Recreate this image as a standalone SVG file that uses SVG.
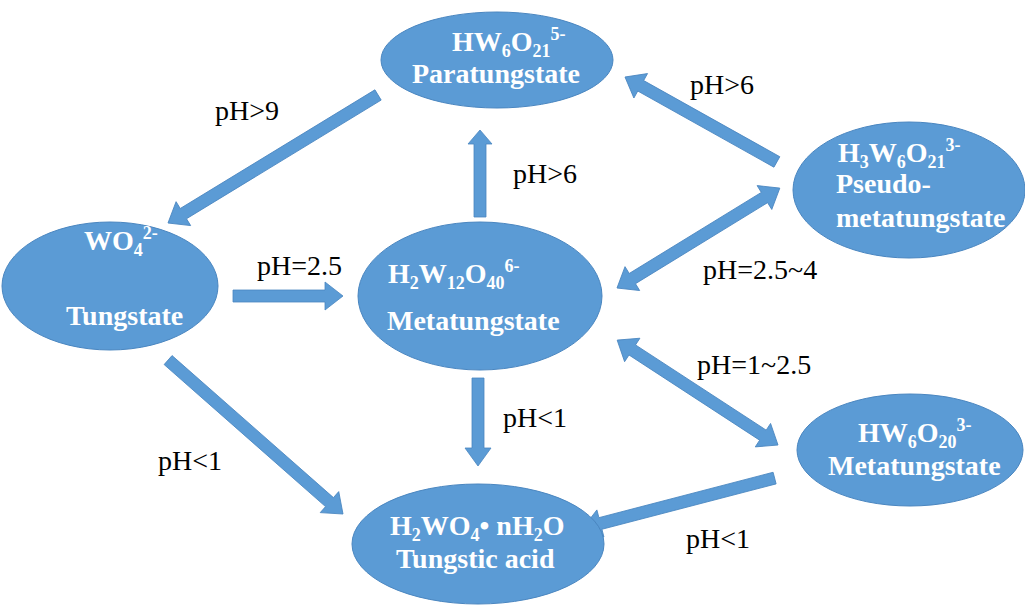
<svg xmlns="http://www.w3.org/2000/svg" width="1025" height="605" viewBox="0 0 1025 605">
<style>
.n{fill:#5B9BD5;stroke:#4A86C0;stroke-width:1}
.a{fill:#5B9BD5;stroke:#4A86C0;stroke-width:0.8}
.t{fill:#fff;font-family:"Liberation Serif","Times New Roman",serif;font-weight:bold;font-size:28px}
.s{font-size:18px}
.l{fill:#000;font-family:"Liberation Serif","Times New Roman",serif;font-size:28px}
</style>
<rect width="1025" height="605" fill="#fff"/>
<g id="connectors">
<polygon class="a" transform="translate(168,223) rotate(148.63)" points="0,0 -18,-14 -18,-6 -246,-6 -246,6 -18,6 -18,14"/>
<polygon class="a" transform="translate(480,130) rotate(-90)" points="0,0 -14,-12 -14,-6 -87,-6 -87,6 -14,6 -14,12"/>
<polygon class="a" transform="translate(343,296) rotate(0)" points="0,0 -18,-14 -18,-6 -110,-6 -110,6 -18,6 -18,14"/>
<polygon class="a" transform="translate(478,466) rotate(90)" points="0,0 -18,-13 -18,-6 -88,-6 -88,6 -18,6 -18,13"/>
<polygon class="a" transform="translate(343,514) rotate(41.35)" points="0,0 -18,-14 -18,-6 -233,-6 -233,6 -18,6 -18,14"/>
<polygon class="a" transform="translate(625,77) rotate(-150.78)" points="0,0 -18,-14 -18,-6 -174,-6 -174,6 -18,6 -18,14"/>
<polygon class="a" transform="translate(617,288) rotate(148.47)" points="0,0 -18,-14 -18,-6 -173,-6 -173,-14 -191,0 -173,14 -173,6 -18,6 -18,14"/>
<polygon class="a" transform="translate(778,445) rotate(33.11)" points="0,0 -18,-14 -18,-6 -174,-6 -174,-14 -192,0 -174,14 -174,6 -18,6 -18,14"/>
<polygon class="a" transform="translate(583,528) rotate(165.4)" points="0,0 -18,-14 -18,-6 -198,-6 -198,6 -18,6 -18,14"/>
</g>
<g id="labels">
<text class="l" x="215" y="120">pH&gt;9</text>
<text class="l" x="690" y="94">pH&gt;6</text>
<text class="l" x="513" y="183">pH&gt;6</text>
<text class="l" x="257" y="275">pH=2.5</text>
<text class="l" x="703" y="279">pH=2.5~4</text>
<text class="l" x="697" y="374">pH=1~2.5</text>
<text class="l" x="503" y="427">pH&lt;1</text>
<text class="l" x="158" y="470">pH&lt;1</text>
<text class="l" x="686" y="548">pH&lt;1</text>
</g>
<g id="paratungstate">
<ellipse class="n" cx="497" cy="60" rx="116" ry="48"/>
<text class="t" x="452" y="51">HW<tspan class="s" dy="6">6</tspan><tspan dy="-6">O</tspan><tspan class="s" dy="6">21</tspan><tspan class="s" dy="-17">5-</tspan></text>
<text class="t" x="412" y="83">Paratungstate</text>
</g>
<g id="pseudometatungstate">
<ellipse class="n" cx="909" cy="190" rx="116" ry="68"/>
<text class="t" x="838" y="162">H<tspan class="s" dy="6">3</tspan><tspan dy="-6">W</tspan><tspan class="s" dy="6">6</tspan><tspan dy="-6">O</tspan><tspan class="s" dy="6">21</tspan><tspan class="s" dy="-17">3-</tspan></text>
<text class="t" x="836" y="193">Pseudo-</text>
<text class="t" x="836" y="227">metatungstate</text>
</g>
<g id="tungstate">
<ellipse class="n" cx="110" cy="286" rx="108" ry="64"/>
<text class="t" x="84" y="250">WO<tspan class="s" dy="6">4</tspan><tspan class="s" dy="-17">2-</tspan></text>
<text class="t" x="66" y="325">Tungstate</text>
</g>
<g id="metatungstate">
<ellipse class="n" cx="480" cy="296" rx="122" ry="74"/>
<text class="t" x="388" y="283">H<tspan class="s" dy="6">2</tspan><tspan dy="-6">W</tspan><tspan class="s" dy="6">12</tspan><tspan dy="-6">O</tspan><tspan class="s" dy="6">40</tspan><tspan class="s" dy="-17">6-</tspan></text>
<text class="t" x="387" y="330">Metatungstate</text>
</g>
<g id="hw6o20">
<ellipse class="n" cx="910" cy="450" rx="113" ry="56"/>
<text class="t" x="858" y="442">HW<tspan class="s" dy="6">6</tspan><tspan dy="-6">O</tspan><tspan class="s" dy="6">20</tspan><tspan class="s" dy="-17">3-</tspan></text>
<text class="t" x="828" y="475">Metatungstate</text>
</g>
<g id="tungsticacid">
<ellipse class="n" cx="478" cy="544" rx="126" ry="60"/>
<text class="t" x="390" y="535">H<tspan class="s" dy="6">2</tspan><tspan dy="-6">WO</tspan><tspan class="s" dy="6">4</tspan><tspan dy="-6">• nH</tspan><tspan class="s" dy="6">2</tspan><tspan dy="-6">O</tspan></text>
<text class="t" x="396" y="568">Tungstic acid</text>
</g>
</svg>
